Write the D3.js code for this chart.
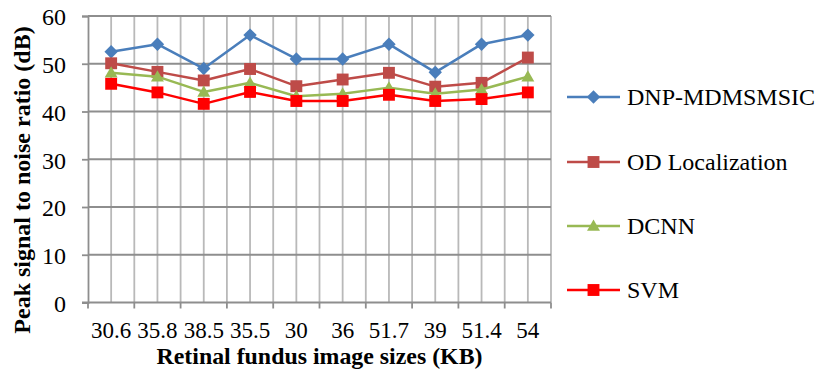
<!DOCTYPE html>
<html>
<head>
<meta charset="utf-8">
<script src="https://cdn.jsdelivr.net/npm/d3@7"></script>
<style>
  html, body { margin: 0; padding: 0; background: #fff; }
</style>
</head>
<body>
<svg id="chart" width="815" height="381"></svg>
<script>
// Image sizes (KB) along the x axis
const categories = ["30.6", "35.8", "38.5", "35.5", "30", "36", "51.7", "39", "51.4", "54"];

// PSNR (dB) per method
const dnpMdmsmsic    = [52.5, 54.1, 49.0, 56.0, 51.0, 51.0, 54.1, 48.2, 54.1, 56.0];
const odLocalization = [50.1, 48.3, 46.5, 48.9, 45.3, 46.7, 48.1, 45.2, 46.0, 51.3];
const dcnn           = [48.1, 47.3, 44.1, 46.0, 43.2, 43.7, 45.0, 43.7, 44.6, 47.3];
const svm            = [45.8, 44.0, 41.6, 44.1, 42.2, 42.2, 43.5, 42.2, 42.6, 44.0];

const yTicks = [0, 10, 20, 30, 40, 50, 60];

const seriesNames = ["DNP-MDMSMSIC", "OD Localization", "DCNN", "SVM"];
const seriesValues = [dnpMdmsmsic, odLocalization, dcnn, svm];
const seriesColors = ["#4A7EBB", "#BE4B48", "#98B954", "#FF0000"];
const seriesSymbols = ["diamond", "square", "triangle", "square"];

const FONT = "'Liberation Serif', 'Times New Roman', 'DejaVu Serif', serif";
const FS = 24;

const svg = d3.select("#chart").attr("font-family", FONT);
const plot = { left: 88, right: 551, top: 16, bottom: 302.5 };

const x = d3.scaleBand().domain(categories).range([plot.left, plot.right]).padding(0);
const y = d3.scaleLinear().domain([0, 60]).range([plot.bottom, plot.top]);

// Vertical gridlines: category boundaries and category centres
const vLines = [];
categories.forEach(c => { vLines.push(x(c)); vLines.push(x(c) + x.bandwidth() / 2); });
vLines.push(plot.right);
svg.append("g").selectAll("line").data(vLines.filter(v => v > plot.left + 0.5)).join("line")
  .attr("x1", d => d).attr("x2", d => d)
  .attr("y1", plot.top).attr("y2", plot.bottom)
  .attr("stroke", "#b9b9b9").attr("stroke-width", 1.8);

// Horizontal gridlines
svg.append("g").selectAll("line").data(yTicks.filter(t => t > 0)).join("line")
  .attr("x1", plot.left).attr("x2", plot.right)
  .attr("y1", d => y(d)).attr("y2", d => y(d))
  .attr("stroke", "#8e8e8e").attr("stroke-width", 1.8);

// Y axis
const yAxis = svg.append("g").attr("transform", `translate(${plot.left},0)`)
  .call(d3.axisLeft(y).tickValues(yTicks).tickSize(6).tickPadding(16));
yAxis.attr("font-family", FONT);
yAxis.select(".domain").attr("stroke", "#8e8e8e").attr("stroke-width", 1.8);
yAxis.selectAll(".tick line").attr("stroke", "#8e8e8e").attr("stroke-width", 1.8);
yAxis.selectAll("text").attr("font-size", FS).attr("fill", "#000").attr("dy", "0.37em");

// X axis with ticks on category boundaries
const xAxisG = svg.append("g").attr("transform", `translate(0,${plot.bottom})`);
xAxisG.append("line").attr("x1", plot.left - 6).attr("x2", plot.right)
  .attr("stroke", "#8e8e8e").attr("stroke-width", 1.8);
const bounds = categories.map(c => x(c)).concat([plot.right]);
xAxisG.selectAll("line.tk").data(bounds).join("line").attr("class", "tk")
  .attr("x1", d => d).attr("x2", d => d).attr("y1", 0).attr("y2", 6)
  .attr("stroke", "#8e8e8e").attr("stroke-width", 1.8);
xAxisG.selectAll("text").data(categories).join("text")
  .attr("x", d => x(d) + x.bandwidth() / 2).attr("y", 35.5)
  .attr("text-anchor", "middle").attr("font-size", 23).text(d => d);

// Axis titles
svg.append("text").attr("x", (plot.left + plot.right) / 2).attr("y", 364)
  .attr("text-anchor", "middle").attr("font-size", 23).attr("font-weight", "bold")
  .attr("textLength", 326).attr("lengthAdjust", "spacingAndGlyphs")
  .text("Retinal fundus image sizes (KB)");
svg.append("text").attr("transform", "translate(30,180) rotate(-90)")
  .attr("text-anchor", "middle").attr("font-size", FS).attr("font-weight", "bold")
  .text("Peak signal to noise ratio (dB)");

function symbolPath(kind) {
  if (kind === "diamond") return d3.symbol().type(d3.symbolDiamond2).size(115)();
  if (kind === "triangle") return d3.symbol().type(d3.symbolTriangle2).size(120)();
  return d3.symbol().type(d3.symbolSquare2).size(180)();
}

const line = d3.line().x((d, i) => x(categories[i]) + x.bandwidth() / 2).y(d => y(d));

seriesValues.forEach((vals, s) => {
  const g = svg.append("g");
  g.append("path").attr("d", line(vals)).attr("fill", "none")
    .attr("stroke", seriesColors[s]).attr("stroke-width", 2.5).attr("stroke-linejoin", "round");
  g.selectAll("path.m").data(vals).join("path").attr("class", "m")
    .attr("transform", (d, i) => `translate(${x(categories[i]) + x.bandwidth() / 2},${y(d) + (seriesSymbols[s] === "triangle" ? 1 : 0)})`)
    .attr("d", symbolPath(seriesSymbols[s]))
    .attr("fill", seriesColors[s]);
});

// Legend
const legendY = [97, 162, 226, 290];
seriesNames.forEach((name, s) => {
  const g = svg.append("g").attr("transform", `translate(0,${legendY[s]})`);
  g.append("line").attr("x1", 567).attr("x2", 620).attr("stroke", seriesColors[s]).attr("stroke-width", 2.5);
  g.append("path").attr("transform", `translate(593.5,${seriesSymbols[s] === "triangle" ? 1 : 0})`)
    .attr("d", symbolPath(seriesSymbols[s])).attr("fill", seriesColors[s]);
  g.append("text").attr("x", 627).attr("y", 8).attr("font-size", FS).text(name);
});
</script>
</body>
</html>
